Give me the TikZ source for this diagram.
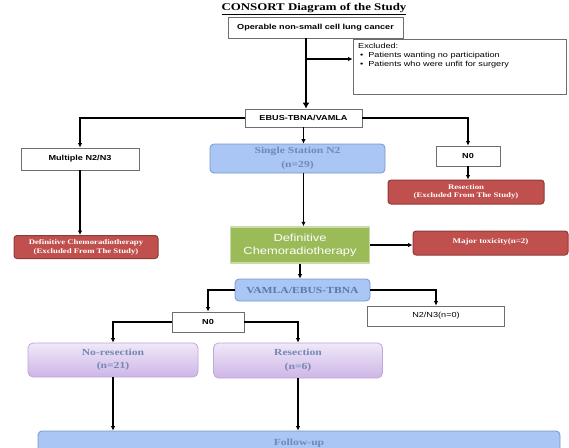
\documentclass[tikz,border=0pt]{standalone}
\usepackage{fontspec}
\setmainfont{Liberation Serif}[FakeStretch=1.25]
\setsansfont{Liberation Sans}[FakeStretch=1.25]
\usetikzlibrary{arrows.meta}
\definecolor{redf}{HTML}{C0504D}
\definecolor{redd}{HTML}{8E3B39}
\definecolor{bluef}{HTML}{A9C6F4}
\definecolor{blued}{HTML}{7497CF}
\definecolor{bluet}{HTML}{7288B5}
\definecolor{greenf}{HTML}{9BBB59}
\definecolor{greend}{HTML}{C9DBA6}
\definecolor{purt}{HTML}{F0E8F8}
\definecolor{purb}{HTML}{CDB6E6}
\definecolor{purd}{HTML}{BFA6DA}
\definecolor{grayd}{HTML}{6E6E6E}
\begin{document}
\begin{tikzpicture}[x=1pt,y=-1pt,
  wbox/.style={draw=grayd, line width=0.8pt, fill=white, inner sep=0pt,
    font=\sffamily\bfseries\fontsize{7.3}{9}\selectfont},
  rbox/.style={draw=redd, line width=1pt, fill=redf, rounded corners=3pt, inner sep=0pt,
    text=white, align=center, font=\bfseries\fontsize{7}{8.6}\selectfont},
  bbox/.style={draw=blued, line width=0.8pt, fill=bluef, rounded corners=4pt, inner sep=0pt,
    text=bluet, align=center, font=\bfseries\fontsize{9.3}{13.5}\selectfont},
  pbox/.style={draw=purd, line width=0.8pt, top color=purt, bottom color=purb, rounded corners=5pt,
    inner sep=0pt, text=bluet, align=center, font=\bfseries\fontsize{9.3}{13.5}\selectfont},
  gbox/.style={draw=greend, line width=1.5pt, fill=greenf, inner sep=0pt, text=white,
    align=center, font=\sffamily\fontsize{10.3}{13}\selectfont},
  arr/.style={draw=black, line width=1.3pt, -{Latex[length=4.5pt,width=4.5pt]}},
  arrbig/.style={draw=black, line width=1.8pt, -{Latex[length=6pt,width=7pt]}}
]
\useasboundingbox (0,0) rectangle (569,447);

\node[inner sep=0pt, font=\bfseries\fontsize{10.3}{12}\selectfont] (title) at (314,9) {\underline{CONSORT Diagram of the Study}};
\node[wbox, minimum width=175pt, minimum height=21pt] (top) at (315.5,27.5) {Operable non-small cell lung cancer};
\node[wbox, minimum width=213pt, minimum height=55pt] (excl) at (459.5,66.5) {};
\node[anchor=north west, inner sep=0pt, align=left, font=\sffamily\fontsize{7.3}{9}\selectfont] (excltxt) at (358,43)
  {Excluded:\\\hspace*{2pt}\textbullet\hspace{5pt}Patients wanting no participation\\\hspace*{2pt}\textbullet\hspace{5pt}Patients who were unfit for surgery};

\node[wbox, minimum width=117pt, minimum height=18pt] (ebus) at (303.5,118) {EBUS-TBNA/VAMLA};
\node[wbox, minimum width=118pt, minimum height=22pt] (mult) at (80,159) {Multiple N2/N3};
\node[bbox, minimum width=175pt, minimum height=29pt] (single) at (297.5,158.5) {Single Station N2\\(n=29)};
\node[wbox, minimum width=64pt, minimum height=20pt] (n0a) at (468,156) {N0};
\node[rbox, minimum width=156pt, minimum height=24pt] (res1) at (466,192) {Resection\\(Excluded From The Study)};
\node[rbox, minimum width=144pt, minimum height=23pt] (dcr) at (86,247) {Definitive Chemoradiotherapy\\(Excluded From The Study)};
\node[gbox, minimum width=139pt, minimum height=36pt] (green) at (300,245) {Definitive\\Chemoradiotherapy};
\node[rbox, minimum width=155pt, minimum height=24pt, font=\bfseries\fontsize{7.2}{8.6}\selectfont] (tox) at (490.5,243) {\raisebox{5pt}{Major toxicity(n=2)}};
\node[bbox, minimum width=135pt, minimum height=22pt, text=blued!80!black] (vamla) at (302.5,290) {VAMLA/EBUS-TBNA};
\node[wbox, minimum width=72pt, minimum height=20pt] (n0b) at (208,322) {N0};
\node[wbox, minimum width=137pt, minimum height=20pt, font=\sffamily\fontsize{7.3}{9}\selectfont] (n23) at (436,316) {N2/N3(n=0)};
\node[pbox, minimum width=170pt, minimum height=34pt] (nores) at (113,360) {No-resection\\(n=21)};
\node[pbox, minimum width=169pt, minimum height=35pt] (res2) at (298,360.5) {Resection\\(n=6)};
\node[bbox, minimum width=522pt, minimum height=24pt] (follow) at (299,443) {Follow-up};

\coordinate (spine) at (306,0);
\coordinate (exc) at (306,59);
\draw[arrbig] (top.south -| spine) -- (ebus.north -| spine);
\draw[arr] (exc) -- (exc -| excl.west);
\draw[arr] (ebus.west) -| (mult.north);
\draw[arr] (ebus.east) -| (n0a.north);
\draw[arr] (ebus.south) -- (ebus.south |- single.north);
\draw[arr] (mult.south) -- (mult.south |- dcr.north);
\draw[arr] (n0a.south) -- (n0a.south |- res1.north);
\draw[arr] (ebus.south |- single.south) -- (ebus.south |- green.north);
\draw[arr] (green.east) -- (green.east -| tox.west);
\draw[arr] (green.south) -- (green.south |- vamla.north);
\draw[arr] (vamla.west) -| (n0b.north);
\draw[arr] (vamla.east) -| (n23.north);
\draw[arr] (n0b.west) -| (nores.north);
\draw[arr] (n0b.east) -| (res2.north);
\draw[arr] (nores.south) -- (nores.south |- follow.north);
\draw[arr] (res2.south) -- (res2.south |- follow.north);
\end{tikzpicture}
\end{document}
